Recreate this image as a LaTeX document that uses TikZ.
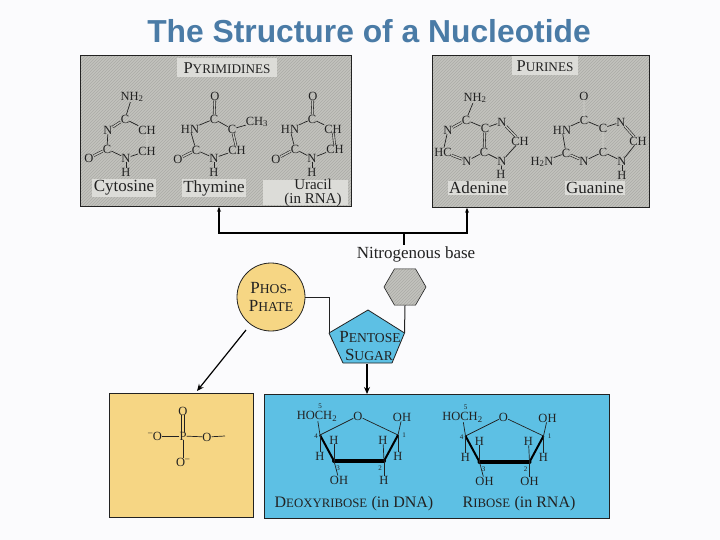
\documentclass[tikz,border=0pt]{standalone}
\usepackage{fontspec}
\setmainfont{Liberation Serif}
\newfontfamily\titlefont{Liberation Sans}
\usetikzlibrary{arrows.meta,patterns,shapes.geometric}
\definecolor{pagefill}{HTML}{FBFBFD}
\definecolor{grayfill}{HTML}{C2C2BD}
\definecolor{grayhatch}{HTML}{ABABA7}
\definecolor{labelfill}{HTML}{DCDCD8}
\definecolor{yellowfill}{HTML}{F6D684}
\definecolor{bluefill}{HTML}{5DC0E4}
\definecolor{titleblue}{HTML}{4A7BA6}
\definecolor{inkgray}{HTML}{222222}
\newcommand{\capsmall}[3][12.5]{{\pgfmathsetmacro{\capsz}{#1*0.8}\fontsize{#1}{#1}\selectfont #2\fontsize{\capsz}{#1}\selectfont #3}}
\tikzset{
  panel/.style={draw=inkgray,line width=0.8pt,anchor=north west,inner sep=0pt},
  atom/.style={inner sep=0pt,text=inkgray,font=\fontsize{12.5}{13}\selectfont},
  tag/.style={inner sep=1.5pt,fill=labelfill,text=inkgray,font=\fontsize{17}{18}\selectfont},
  plain/.style={inner sep=1pt,text=inkgray,font=\fontsize{17}{18}\selectfont},
  num/.style={inner sep=0pt,text=inkgray,font=\fontsize{7}{7}\selectfont},
  bond/.style={line width=0.7pt,draw=inkgray},
  dbl/.style={line width=0.6pt,draw=inkgray,double=grayfill,double distance=1.4pt},
  link/.style={line width=1pt,draw=inkgray},
  lead/.style={line width=1.2pt,draw=black,-{Stealth[length=7pt,width=6pt]}}
}
% ring of one sugar, the lower right group differs
\newcommand{\sugarbody}[1]{%
\foreach \n/\x/\y/\t in {hoch/317/416/{HOCH\textsubscript{2}},o/358/416/O,oh/402/417/OH,
    ha/334/440/H,hb/383/440/H,hc/320/456/H,hd/398/456/H,ohb/339/480/OH,low/384/480/{#1}}
  \node[atom] (\n) at (\x,\y) {\t};
\foreach \n/\x/\y/\t in {na/320/406/5,nb/316/436/4,nc/404/435/1,nd/338/468/3,ne/380/468/2}
  \node[num] (\n) at (\x,\y) {\t};
\coordinate (cfour) at (320,435);
\coordinate (cone) at (398,435);
\coordinate (cthree) at (334,461);
\coordinate (ctwo) at (384,461);
\draw[bond] (cfour) -- (o);
\draw[bond] (o) -- (cone);
\draw[line width=2pt,line join=round] (cfour) -- (cthree);
\draw[line width=2pt,line join=round] (cone) -- (ctwo);
\draw[line width=4pt,line cap=round] (cthree) -- (ctwo);
\foreach \a/\b in {cfour/hoch,cfour/hc,cone/oh,cone/hd,cthree/ha,cthree/ohb,ctwo/hb,ctwo/low}
  \draw[bond] (\a) -- (\b);
}
\begin{document}
\begin{tikzpicture}[x=1pt,y=-1pt,>=Stealth]
\useasboundingbox (0,0) rectangle (720,540);
\fill[pagefill] (0,0) rectangle (720,540);
% ---------- title ----------
\node[inner sep=0pt,text=titleblue,font=\titlefont\bfseries\fontsize{31.8}{34}\selectfont] (title) at (369,31) {The Structure of a Nucleotide};
% ---------- panels ----------
\node[panel,minimum width=271pt,minimum height=151pt,preaction={fill=grayfill},pattern=north east lines,pattern color=grayhatch] (pyrbox) at (80,55) {};
\node[panel,minimum width=217pt,minimum height=152pt,preaction={fill=grayfill},pattern=north east lines,pattern color=grayhatch] (purbox) at (432,55) {};
\node[panel,minimum width=144pt,minimum height=124pt,fill=yellowfill] (phosbox) at (109,393) {};
\node[panel,minimum width=345pt,minimum height=124pt,fill=bluefill] (sugarbox) at (264,394) {};
% ---------- pyrimidines ----------
\node[tag,minimum width=100pt,minimum height=19pt] (pyrtitle) at (227,68) {\capsmall[16.5]{P}{YRIMIDINES}};
\begin{scope}[name prefix=cyt-]
\foreach \n/\x/\y/\t in {amine/132/97/{NH\textsubscript{2}},top/125/119/C,left/108/130/N,right/147/130/CH,
    low/107/149/C,lowr/147/151/CH,oxy/89/158/O,ring/126/158/N,hyd/126/172/H}
  \node[atom] (\n) at (\x,\y) {\t};
\foreach \a/\b in {amine/top,top/right,left/low,low/ring,ring/lowr,ring/hyd}
  \draw[bond] (\a) -- (\b);
\foreach \a/\b in {top/left,right/lowr,low/oxy}
  \draw[dbl] (\a) -- (\b);
\end{scope}
\begin{scope}[name prefix=thy-]
\foreach \n/\x/\y/\t in {oxt/215/96/O,top/214/119/C,left/190/129/HN,right/232/129/C,methyl/257/122/{CH\textsubscript{3}},
    low/196/150/C,lowr/237/150/CH,oxy/178/159/O,ring/214/158/N,hyd/214/172/H}
  \node[atom] (\n) at (\x,\y) {\t};
\foreach \a/\b in {top/left,top/right,right/methyl,left/low,low/ring,ring/lowr,ring/hyd}
  \draw[bond] (\a) -- (\b);
\foreach \a/\b in {oxt/top,right/lowr,low/oxy}
  \draw[dbl] (\a) -- (\b);
\end{scope}
\begin{scope}[name prefix=ura-]
\foreach \n/\x/\y/\t in {oxt/313/96/O,top/312/119/C,left/290/129/HN,right/333/129/CH,
    low/295/149/C,lowr/335/149/CH,oxy/276/159/O,ring/312/158/N,hyd/312/172/H}
  \node[atom] (\n) at (\x,\y) {\t};
\foreach \a/\b in {top/left,top/right,left/low,low/ring,ring/lowr,ring/hyd}
  \draw[bond] (\a) -- (\b);
\foreach \a/\b in {oxt/top,right/lowr,low/oxy}
  \draw[dbl] (\a) -- (\b);
\end{scope}
\node[tag] (cytosine) at (124,188) {Cytosine};
\node[tag] (thymine) at (214,188) {Thymine};
\node[tag,minimum width=85pt,minimum height=25pt] (uracilbox) at (305.5,192.5) {};
\node[plain,align=center,font=\fontsize{15}{14}\selectfont] (uracil) at (313,192.5) {Uracil\\(in RNA)};
% ---------- purines ----------
\node[tag,minimum width=66pt,minimum height=19pt] (purtitle) at (545,66) {\capsmall[16.5]{P}{URINES}};
\begin{scope}[name prefix=ade-]
\foreach \n/\x/\y/\t in {amine/475/98/{NH\textsubscript{2}},top/466/120/C,left/448/130/N,mid/485/128/C,nsev/502/122/N,
    ch/520/141/CH,cfour/484/152/C,hc/443/152/HC,nthr/467/161/N,nnin/502/161/N,hyd/501/174/H}
  \node[atom] (\n) at (\x,\y) {\t};
\foreach \a/\b in {amine/top,top/mid,left/hc,nthr/cfour,mid/nsev,ch/nnin,cfour/nnin,nnin/hyd}
  \draw[bond] (\a) -- (\b);
\foreach \a/\b in {top/left,mid/cfour,hc/nthr,nsev/ch}
  \draw[dbl] (\a) -- (\b);
\end{scope}
\begin{scope}[name prefix=gua-]
\foreach \n/\x/\y/\t in {oxt/584/96/O,top/584/120/C,left/562/130/HN,mid/603/128/C,nsev/621/122/N,
    ch/638/141/CH,cfour/603/152/C,ctwo/566/153/C,nthr/584/161/N,nnin/622/161/N,hyd/622/175/H,amine/542/162/{H\textsubscript{2}N}}
  \node[atom] (\n) at (\x,\y) {\t};
\foreach \a/\b in {top/left,top/mid,left/ctwo,ctwo/amine,nthr/cfour,mid/nsev,ch/nnin,cfour/nnin,nnin/hyd}
  \draw[bond] (\a) -- (\b);
\foreach \a/\b in {oxt/top,mid/cfour,ctwo/nthr,nsev/ch}
  \draw[dbl] (\a) -- (\b);
\end{scope}
\node[tag] (adenine) at (478,188) {Adenine};
\node[tag] (guanine) at (595,188) {Guanine};
% ---------- bracket and base ----------
\node[plain] (baselabel) at (416,254) {Nitrogenous base};
\coordinate (forkmid) at (404,233);
\coordinate (forkleft) at (219,233);
\coordinate (forkright) at (467,233);
\draw[line width=1.1pt] (forkmid) -- (forkmid |- baselabel.north);
\draw[line width=1.1pt,-{Stealth[length=5pt,width=4pt]}] (forkmid) -- (forkleft) -- (forkleft |- pyrbox.south);
\draw[line width=1.1pt,-{Stealth[length=5pt,width=4pt]}] (forkmid) -- (forkright) -- (forkright |- purbox.south);
% ---------- nucleotide ----------
\coordinate (penttop) at (368,310);
\coordinate (pentright) at (404.5,333);
\coordinate (pentbr) at (392,363);
\coordinate (pentbl) at (343,363);
\coordinate (pentleft) at (329,333);
\node[regular polygon,regular polygon sides=6,minimum size=42pt,inner sep=0pt,draw=inkgray,line width=0.6pt,preaction={fill=grayfill},pattern=north east lines,pattern color=grayhatch] (hexbase) at (405,287) {};
\node[circle,draw=inkgray,line width=0.8pt,fill=yellowfill,minimum size=68pt,inner sep=0pt,align=center,text=inkgray] (phosphate) at (271,297) {\capsmall[17]{P}{HOS-}\\[6pt]\capsmall[17]{P}{HATE}};
\draw[link] (phosphate.east) -| (pentleft);
\draw[link] (hexbase.south) -- (pentright);
\draw[draw=inkgray,line width=0.8pt,fill=bluefill,line join=round] (penttop) -- (pentright) -- (pentbr) -- (pentbl) -- (pentleft) -- cycle;
\node[inner sep=0pt,text=inkgray] (pentone) at (370,337) {\capsmall[17]{P}{ENTOSE}};
\node[inner sep=0pt,text=inkgray] (penttwo) at (369,355) {\capsmall[17]{S}{UGAR}};
\coordinate (sugarstart) at (367,364);
\coordinate (phosstart) at (246,330);
\coordinate (phosend) at (197,391);
\draw[lead] (sugarstart) -- (sugarstart |- sugarbox.north);
\draw[lead] (phosstart) -- (phosend);
% ---------- phosphate group ----------
\begin{scope}[name prefix=pho-]
\foreach \n/\x/\y/\t in {oxt/183/411/O,pho/183/436/P,left/155/436/{\textsuperscript{--}O},right/207/437/O,low/183/462/{O\textsuperscript{--}}}
  \node[atom] (\n) at (\x,\y) {\t};
\coordinate (tail) at (225,436);
\foreach \a/\b in {pho/left,pho/right,pho/low,right/tail}
  \draw[bond] (\a) -- (\b);
\draw[bond] ([xshift=-1.3pt]oxt.south) -- ([xshift=-1.3pt]pho.north);
\draw[bond] ([xshift=1.3pt]oxt.south) -- ([xshift=1.3pt]pho.north);
\end{scope}
% ---------- sugars ----------
\begin{scope}[name prefix=deoxy-]
\sugarbody{H}
\end{scope}
\begin{scope}[name prefix=ribo-,shift={(145.5,1)}]
\sugarbody{OH}
\end{scope}
\node[plain] (deoxylabel) at (354,504) {\capsmall[16]{D}{EOXYRIBOSE} {\fontsize{16}{16}\selectfont (in DNA)}};
\node[plain] (ribolabel) at (519,504) {\capsmall[16]{R}{IBOSE} {\fontsize{16}{16}\selectfont (in RNA)}};
\end{tikzpicture}
\end{document}
